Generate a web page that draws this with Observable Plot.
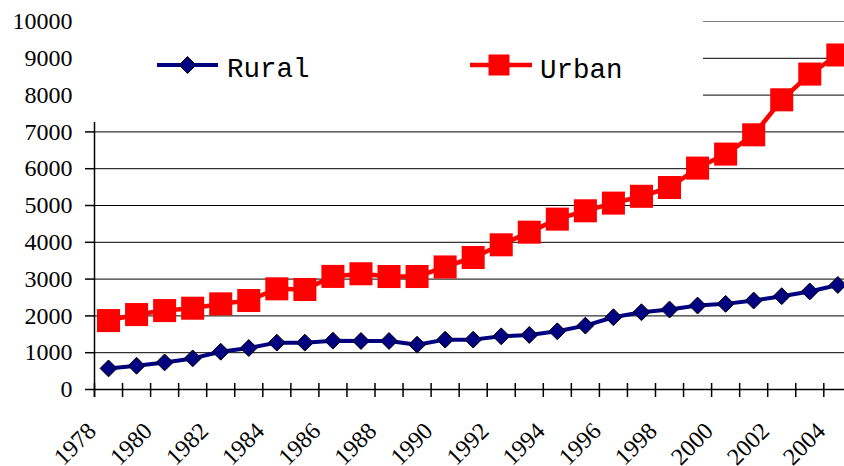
<!DOCTYPE html>
<html>
<head>
<meta charset="utf-8">
<script src="https://cdn.jsdelivr.net/npm/d3@7"></script>
<script src="https://cdn.jsdelivr.net/npm/@observablehq/plot@0.6"></script>
<style>
  html, body { margin: 0; padding: 0; background: #fff; }
  #wrap { position: relative; width: 844px; height: 466px; overflow: hidden; }
  #chart svg, #chart svg text { font-family: "Liberation Serif", "DejaVu Serif", serif !important; }
  #legend { position: absolute; left: 78px; top: 0; width: 625px; height: 122px; background: #fff; }
  #legend text { font-family: "Liberation Mono", "DejaVu Sans Mono", monospace; }
</style>
</head>
<body>
<div id="wrap">
  <div id="chart"></div>
  <div id="legend"></div>
</div>
<script>
// ---- data ----
const years = [1978, 1979, 1980, 1981, 1982, 1983, 1984, 1985, 1986, 1987, 1988, 1989, 1990,
  1991, 1992, 1993, 1994, 1995, 1996, 1997, 1998, 1999, 2000, 2001, 2002, 2003, 2004];
const rural = [573, 645, 736, 845, 1027, 1127, 1273, 1273, 1327, 1318, 1318, 1218, 1355,
  1355, 1445, 1482, 1582, 1736, 1964, 2100, 2173, 2282, 2327, 2418, 2536, 2664, 2840];
const urban = [1873, 2036, 2145, 2209, 2327, 2418, 2736, 2718, 3073, 3145, 3070, 3070, 3330,
  3587, 3932, 4275, 4630, 4856, 5065, 5250, 5489, 6016, 6397, 6921, 7872, 8571, 9090];
const yTicks = [0, 1000, 2000, 3000, 4000, 5000, 6000, 7000, 8000, 9000, 10000];
const xTickLabels = [1978, 1980, 1982, 1984, 1986, 1988, 1990, 1992, 1994, 1996, 1998, 2000, 2002, 2004];
const seriesNames = ["Rural", "Urban"];

const ruralData = years.map((yr, i) => ({year: yr, value: rural[i]}));
const urbanData = years.map((yr, i) => ({year: yr, value: urban[i]}));

const navy = "#000080", red = "#ff0000";
const serif = "Liberation Serif";

const chart = Plot.plot({
  width: 844,
  height: 466,
  marginLeft: 94,
  marginRight: 0,
  marginTop: 21,
  marginBottom: 77,
  style: {fontFamily: serif, fontSize: "24px", color: "#000", background: "transparent", overflow: "hidden"},
  x: {type: "linear", domain: [1978, 2004.738], axis: null},
  y: {domain: [0, 10000]},
  marks: [
    Plot.ruleY(yTicks.filter(v => v > 0 && v < 10000), {stroke: "#000", strokeWidth: 1}),
    Plot.ruleY([10000], {stroke: "#808080", strokeWidth: 1}),
    Plot.ruleY([0], {stroke: "#000", strokeWidth: 1.5}),
    Plot.ruleX([1978], {stroke: "#000", strokeWidth: 1.5, insetBottom: -8}),
    Plot.axisY({ticks: yTicks, tickSize: 9, tickPadding: 13, tickFormat: d3.format("d"), label: null,
      fontSize: 24, fontFamily: serif, stroke: "#000", strokeWidth: 1.5}),
    // category boundary ticks crossing the x axis
    Plot.ruleX(years, {x: d => d, y1: 0, y2: 0, insetTop: -6, insetBottom: -8, stroke: "#000", strokeWidth: 1.5}),
    Plot.text(xTickLabels, {x: d => d, frameAnchor: "bottom", dy: 43, dx: 3, rotate: -45,
      textAnchor: "end", lineAnchor: "bottom", fontSize: 24, fontFamily: serif, fill: "#000", text: d => String(d)}),
    Plot.line(ruralData, {x: d => d.year + 0.5, y: "value", stroke: navy, strokeWidth: 4}),
    Plot.dot(ruralData, {x: d => d.year + 0.5, y: "value", symbol: "diamond2", r: 7.6, fill: navy, stroke: "#000", strokeWidth: 1}),
    Plot.line(urbanData, {x: d => d.year + 0.5, y: "value", stroke: red, strokeWidth: 4.5}),
    Plot.dot(urbanData, {x: d => d.year + 0.5, y: "value", symbol: "square", r: 13, fill: red})
  ]
});
document.getElementById("chart").appendChild(chart);

// ---- legend (overlay box) ----
document.getElementById("legend").innerHTML = `
<svg width="625" height="122" xmlns="http://www.w3.org/2000/svg">
  <line x1="79" y1="65" x2="140" y2="65" stroke="${navy}" stroke-width="4"/>
  <path d="M109.5,56.5 L118,65 L109.5,73.5 L101,65 Z" fill="${navy}" stroke="#000" stroke-width="1"/>
  <text x="149" y="77" font-size="27.5" fill="#000">${seriesNames[0]}</text>
  <line x1="392" y1="65" x2="454" y2="65" stroke="${red}" stroke-width="4.5"/>
  <rect x="410.5" y="54.5" width="21" height="21" fill="${red}"/>
  <text x="462" y="77.5" font-size="27.5" fill="#000">${seriesNames[1]}</text>
</svg>`;
</script>
</body>
</html>
